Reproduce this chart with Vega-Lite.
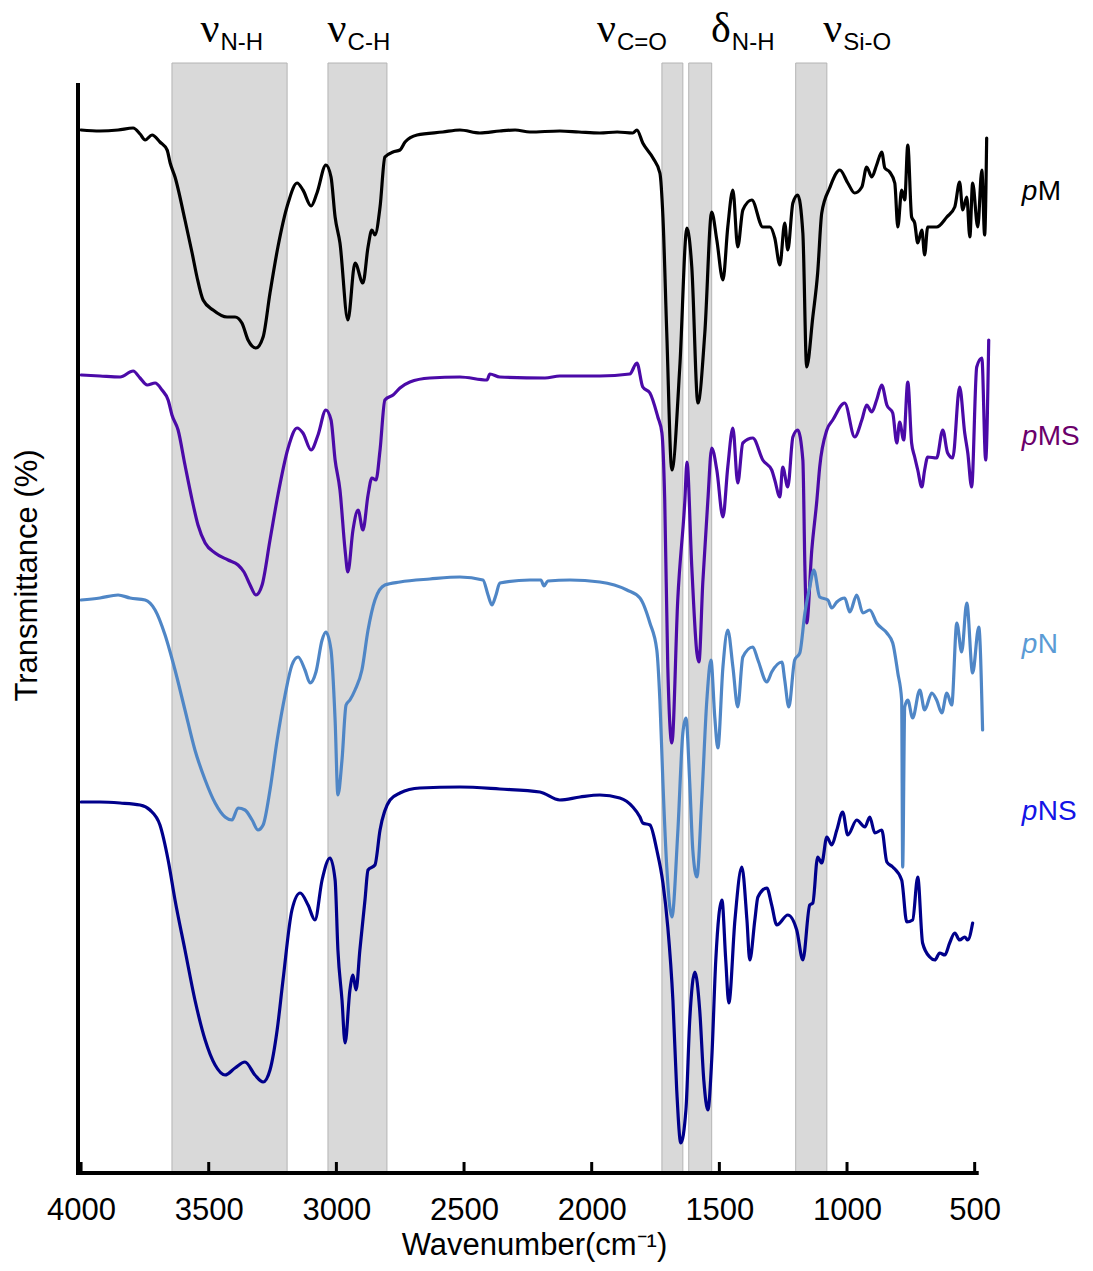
{
"$schema": "https://vega.github.io/schema/vega-lite/v6.json",
"width": 912, "height": 1110,
"autosize": {"type": "none"},
"padding": {"left": 78, "top": 63, "right": 103, "bottom": 98},
"config": {"view": {"stroke": null}, "font": "Liberation Sans", "axis": {"grid": false}},
"datasets": {
"bands": [{"from": 3644, "to": 3193}, {"from": 3033, "to": 2802}, {"from": 1725, "to": 1643}, {"from": 1620, "to": 1530}, {"from": 1201, "to": 1079}],
"ticks": [{"v": 4000}, {"v": 3500}, {"v": 3000}, {"v": 2500}, {"v": 2000}, {"v": 1500}, {"v": 1000}, {"v": 500}],
"axisline": [{"a": 1}],
"peaks": [{"g": "ν", "sub": "N-H", "w": 3458}, {"g": "ν", "sub": "C-H", "w": 2960}, {"g": "ν", "sub": "C=O", "w": 1905}, {"g": "δ", "sub": "N-H", "w": 1455}, {"g": "ν", "sub": "Si-O", "w": 1019}],
"labels": [{"s": "pM", "rest": "M", "t": 981}, {"s": "pMS", "rest": "MS", "t": 736}, {"s": "pN", "rest": "N", "t": 528}, {"s": "pNS", "rest": "NS", "t": 361}],
"spectra": [
{"s":"pM","w":4000,"t":1043},{"s":"pM","w":3926,"t":1042},{"s":"pM","w":3855,"t":1043},{"s":"pM","w":3796,"t":1045},{"s":"pM","w":3769,"t":1039},{"s":"pM","w":3749,"t":1033},{"s":"pM","w":3722,"t":1038},{"s":"pM","w":3691,"t":1031},{"s":"pM","w":3663,"t":1023},{"s":"pM","w":3651,"t":1010},{"s":"pM","w":3632,"t":996},{"s":"pM","w":3593,"t":953},{"s":"pM","w":3565,"t":920},{"s":"pM","w":3546,"t":896},{"s":"pM","w":3522,"t":873},{"s":"pM","w":3483,"t":863},{"s":"pM","w":3428,"t":856},{"s":"pM","w":3397,"t":856},{"s":"pM","w":3370,"t":850},{"s":"pM","w":3346,"t":833},{"s":"pM","w":3315,"t":825},{"s":"pM","w":3287,"t":836},{"s":"pM","w":3260,"t":880},{"s":"pM","w":3229,"t":926},{"s":"pM","w":3189,"t":970},{"s":"pM","w":3154,"t":990},{"s":"pM","w":3131,"t":983},{"s":"pM","w":3099,"t":967},{"s":"pM","w":3076,"t":980},{"s":"pM","w":3041,"t":1008},{"s":"pM","w":3021,"t":996},{"s":"pM","w":3005,"t":956},{"s":"pM","w":2986,"t":930},{"s":"pM","w":2955,"t":853},{"s":"pM","w":2927,"t":910},{"s":"pM","w":2896,"t":890},{"s":"pM","w":2876,"t":926},{"s":"pM","w":2861,"t":943},{"s":"pM","w":2849,"t":938},{"s":"pM","w":2829,"t":966},{"s":"pM","w":2810,"t":1016},{"s":"pM","w":2778,"t":1021},{"s":"pM","w":2751,"t":1023},{"s":"pM","w":2731,"t":1031},{"s":"pM","w":2684,"t":1038},{"s":"pM","w":2583,"t":1041},{"s":"pM","w":2516,"t":1043},{"s":"pM","w":2438,"t":1040},{"s":"pM","w":2360,"t":1042},{"s":"pM","w":2300,"t":1043},{"s":"pM","w":2242,"t":1041},{"s":"pM","w":2125,"t":1042},{"s":"pM","w":2050,"t":1041},{"s":"pM","w":1968,"t":1040},{"s":"pM","w":1900,"t":1041},{"s":"pM","w":1839,"t":1040},{"s":"pM","w":1823,"t":1043},{"s":"pM","w":1800,"t":1030},{"s":"pM","w":1760,"t":1015},{"s":"pM","w":1733,"t":1000},{"s":"pM","w":1721,"t":956},{"s":"pM","w":1706,"t":840},{"s":"pM","w":1686,"t":703},{"s":"pM","w":1655,"t":806},{"s":"pM","w":1627,"t":945},{"s":"pM","w":1608,"t":906},{"s":"pM","w":1584,"t":770},{"s":"pM","w":1557,"t":840},{"s":"pM","w":1530,"t":961},{"s":"pM","w":1510,"t":933},{"s":"pM","w":1486,"t":893},{"s":"pM","w":1467,"t":946},{"s":"pM","w":1447,"t":983},{"s":"pM","w":1428,"t":926},{"s":"pM","w":1408,"t":963},{"s":"pM","w":1373,"t":973},{"s":"pM","w":1330,"t":946},{"s":"pM","w":1302,"t":946},{"s":"pM","w":1283,"t":935},{"s":"pM","w":1263,"t":908},{"s":"pM","w":1244,"t":950},{"s":"pM","w":1232,"t":923},{"s":"pM","w":1212,"t":970},{"s":"pM","w":1193,"t":978},{"s":"pM","w":1173,"t":940},{"s":"pM","w":1158,"t":806},{"s":"pM","w":1134,"t":856},{"s":"pM","w":1115,"t":900},{"s":"pM","w":1099,"t":960},{"s":"pM","w":1068,"t":985},{"s":"pM","w":1028,"t":1003},{"s":"pM","w":997,"t":990},{"s":"pM","w":970,"t":980},{"s":"pM","w":942,"t":986},{"s":"pM","w":923,"t":1006},{"s":"pM","w":903,"t":996},{"s":"pM","w":884,"t":1008},{"s":"pM","w":864,"t":1021},{"s":"pM","w":852,"t":1005},{"s":"pM","w":833,"t":1001},{"s":"pM","w":813,"t":990},{"s":"pM","w":801,"t":946},{"s":"pM","w":786,"t":983},{"s":"pM","w":774,"t":973},{"s":"pM","w":762,"t":1028},{"s":"pM","w":747,"t":956},{"s":"pM","w":735,"t":950},{"s":"pM","w":723,"t":930},{"s":"pM","w":707,"t":943},{"s":"pM","w":696,"t":918},{"s":"pM","w":684,"t":946},{"s":"pM","w":649,"t":946},{"s":"pM","w":609,"t":956},{"s":"pM","w":578,"t":966},{"s":"pM","w":559,"t":991},{"s":"pM","w":547,"t":963},{"s":"pM","w":531,"t":976},{"s":"pM","w":519,"t":936},{"s":"pM","w":508,"t":990},{"s":"pM","w":488,"t":946},{"s":"pM","w":472,"t":1003},{"s":"pM","w":461,"t":938},{"s":"pM","w":453,"t":1035},
{"s":"pMS","w":4000,"t":798},{"s":"pMS","w":3926,"t":797},{"s":"pMS","w":3847,"t":796},{"s":"pMS","w":3796,"t":802},{"s":"pMS","w":3769,"t":795},{"s":"pMS","w":3741,"t":788},{"s":"pMS","w":3710,"t":790},{"s":"pMS","w":3683,"t":783},{"s":"pMS","w":3659,"t":773},{"s":"pMS","w":3644,"t":758},{"s":"pMS","w":3620,"t":743},{"s":"pMS","w":3593,"t":708},{"s":"pMS","w":3565,"t":673},{"s":"pMS","w":3542,"t":648},{"s":"pMS","w":3514,"t":630},{"s":"pMS","w":3475,"t":620},{"s":"pMS","w":3424,"t":613},{"s":"pMS","w":3385,"t":608},{"s":"pMS","w":3362,"t":601},{"s":"pMS","w":3338,"t":588},{"s":"pMS","w":3315,"t":578},{"s":"pMS","w":3291,"t":588},{"s":"pMS","w":3260,"t":633},{"s":"pMS","w":3229,"t":678},{"s":"pMS","w":3189,"t":725},{"s":"pMS","w":3154,"t":745},{"s":"pMS","w":3131,"t":740},{"s":"pMS","w":3099,"t":723},{"s":"pMS","w":3072,"t":738},{"s":"pMS","w":3041,"t":763},{"s":"pMS","w":3021,"t":753},{"s":"pMS","w":3005,"t":713},{"s":"pMS","w":2986,"t":683},{"s":"pMS","w":2966,"t":623},{"s":"pMS","w":2955,"t":601},{"s":"pMS","w":2935,"t":643},{"s":"pMS","w":2915,"t":663},{"s":"pMS","w":2896,"t":643},{"s":"pMS","w":2876,"t":678},{"s":"pMS","w":2861,"t":695},{"s":"pMS","w":2845,"t":693},{"s":"pMS","w":2829,"t":723},{"s":"pMS","w":2810,"t":773},{"s":"pMS","w":2778,"t":778},{"s":"pMS","w":2751,"t":785},{"s":"pMS","w":2712,"t":791},{"s":"pMS","w":2634,"t":795},{"s":"pMS","w":2516,"t":796},{"s":"pMS","w":2410,"t":793},{"s":"pMS","w":2399,"t":799},{"s":"pMS","w":2360,"t":796},{"s":"pMS","w":2183,"t":795},{"s":"pMS","w":2125,"t":797},{"s":"pMS","w":1968,"t":797},{"s":"pMS","w":1851,"t":799},{"s":"pMS","w":1823,"t":810},{"s":"pMS","w":1800,"t":786},{"s":"pMS","w":1772,"t":780},{"s":"pMS","w":1741,"t":756},{"s":"pMS","w":1725,"t":740},{"s":"pMS","w":1714,"t":673},{"s":"pMS","w":1702,"t":506},{"s":"pMS","w":1686,"t":430},{"s":"pMS","w":1663,"t":573},{"s":"pMS","w":1635,"t":673},{"s":"pMS","w":1627,"t":711},{"s":"pMS","w":1608,"t":606},{"s":"pMS","w":1588,"t":520},{"s":"pMS","w":1580,"t":511},{"s":"pMS","w":1565,"t":590},{"s":"pMS","w":1545,"t":673},{"s":"pMS","w":1530,"t":725},{"s":"pMS","w":1510,"t":703},{"s":"pMS","w":1486,"t":656},{"s":"pMS","w":1467,"t":706},{"s":"pMS","w":1447,"t":745},{"s":"pMS","w":1428,"t":690},{"s":"pMS","w":1408,"t":730},{"s":"pMS","w":1369,"t":735},{"s":"pMS","w":1330,"t":713},{"s":"pMS","w":1295,"t":703},{"s":"pMS","w":1283,"t":693},{"s":"pMS","w":1263,"t":676},{"s":"pMS","w":1252,"t":706},{"s":"pMS","w":1232,"t":686},{"s":"pMS","w":1212,"t":736},{"s":"pMS","w":1193,"t":743},{"s":"pMS","w":1173,"t":713},{"s":"pMS","w":1165,"t":606},{"s":"pMS","w":1158,"t":550},{"s":"pMS","w":1138,"t":623},{"s":"pMS","w":1118,"t":673},{"s":"pMS","w":1107,"t":706},{"s":"pMS","w":1079,"t":743},{"s":"pMS","w":1056,"t":753},{"s":"pMS","w":1009,"t":770},{"s":"pMS","w":970,"t":736},{"s":"pMS","w":942,"t":753},{"s":"pMS","w":923,"t":768},{"s":"pMS","w":903,"t":761},{"s":"pMS","w":884,"t":773},{"s":"pMS","w":864,"t":788},{"s":"pMS","w":844,"t":768},{"s":"pMS","w":821,"t":760},{"s":"pMS","w":805,"t":730},{"s":"pMS","w":794,"t":751},{"s":"pMS","w":778,"t":733},{"s":"pMS","w":762,"t":791},{"s":"pMS","w":747,"t":730},{"s":"pMS","w":735,"t":716},{"s":"pMS","w":723,"t":703},{"s":"pMS","w":707,"t":686},{"s":"pMS","w":696,"t":703},{"s":"pMS","w":684,"t":716},{"s":"pMS","w":649,"t":715},{"s":"pMS","w":625,"t":743},{"s":"pMS","w":606,"t":720},{"s":"pMS","w":586,"t":715},{"s":"pMS","w":559,"t":786},{"s":"pMS","w":539,"t":740},{"s":"pMS","w":527,"t":720},{"s":"pMS","w":512,"t":686},{"s":"pMS","w":492,"t":806},{"s":"pMS","w":472,"t":815},{"s":"pMS","w":457,"t":713},{"s":"pMS","w":445,"t":833},
{"s":"pN","w":4000,"t":573},{"s":"pN","w":3926,"t":575},{"s":"pN","w":3855,"t":578},{"s":"pN","w":3808,"t":575},{"s":"pN","w":3749,"t":573},{"s":"pN","w":3710,"t":563},{"s":"pN","w":3671,"t":538},{"s":"pN","w":3632,"t":503},{"s":"pN","w":3593,"t":463},{"s":"pN","w":3554,"t":423},{"s":"pN","w":3514,"t":393},{"s":"pN","w":3475,"t":370},{"s":"pN","w":3436,"t":356},{"s":"pN","w":3409,"t":353},{"s":"pN","w":3385,"t":365},{"s":"pN","w":3358,"t":363},{"s":"pN","w":3330,"t":353},{"s":"pN","w":3307,"t":343},{"s":"pN","w":3287,"t":348},{"s":"pN","w":3260,"t":383},{"s":"pN","w":3232,"t":433},{"s":"pN","w":3201,"t":478},{"s":"pN","w":3174,"t":508},{"s":"pN","w":3150,"t":516},{"s":"pN","w":3123,"t":503},{"s":"pN","w":3103,"t":490},{"s":"pN","w":3080,"t":501},{"s":"pN","w":3056,"t":533},{"s":"pN","w":3041,"t":541},{"s":"pN","w":3021,"t":523},{"s":"pN","w":3005,"t":453},{"s":"pN","w":2994,"t":378},{"s":"pN","w":2978,"t":413},{"s":"pN","w":2962,"t":468},{"s":"pN","w":2947,"t":473},{"s":"pN","w":2927,"t":483},{"s":"pN","w":2900,"t":503},{"s":"pN","w":2876,"t":543},{"s":"pN","w":2849,"t":573},{"s":"pN","w":2810,"t":588},{"s":"pN","w":2751,"t":591},{"s":"pN","w":2634,"t":594},{"s":"pN","w":2516,"t":596},{"s":"pN","w":2426,"t":593},{"s":"pN","w":2406,"t":578},{"s":"pN","w":2391,"t":568},{"s":"pN","w":2375,"t":578},{"s":"pN","w":2360,"t":590},{"s":"pN","w":2242,"t":593},{"s":"pN","w":2199,"t":593},{"s":"pN","w":2187,"t":587},{"s":"pN","w":2172,"t":592},{"s":"pN","w":2085,"t":593},{"s":"pN","w":1968,"t":591},{"s":"pN","w":1862,"t":583},{"s":"pN","w":1811,"t":575},{"s":"pN","w":1772,"t":550},{"s":"pN","w":1745,"t":523},{"s":"pN","w":1733,"t":473},{"s":"pN","w":1721,"t":390},{"s":"pN","w":1706,"t":306},{"s":"pN","w":1686,"t":256},{"s":"pN","w":1663,"t":340},{"s":"pN","w":1643,"t":440},{"s":"pN","w":1631,"t":455},{"s":"pN","w":1616,"t":390},{"s":"pN","w":1604,"t":323},{"s":"pN","w":1588,"t":296},{"s":"pN","w":1569,"t":373},{"s":"pN","w":1549,"t":473},{"s":"pN","w":1533,"t":513},{"s":"pN","w":1518,"t":456},{"s":"pN","w":1506,"t":425},{"s":"pN","w":1486,"t":506},{"s":"pN","w":1467,"t":543},{"s":"pN","w":1447,"t":506},{"s":"pN","w":1428,"t":466},{"s":"pN","w":1408,"t":516},{"s":"pN","w":1369,"t":526},{"s":"pN","w":1349,"t":513},{"s":"pN","w":1314,"t":491},{"s":"pN","w":1295,"t":501},{"s":"pN","w":1255,"t":511},{"s":"pN","w":1244,"t":493},{"s":"pN","w":1228,"t":466},{"s":"pN","w":1205,"t":513},{"s":"pN","w":1185,"t":520},{"s":"pN","w":1165,"t":560},{"s":"pN","w":1146,"t":586},{"s":"pN","w":1130,"t":603},{"s":"pN","w":1107,"t":576},{"s":"pN","w":1075,"t":573},{"s":"pN","w":1060,"t":565},{"s":"pN","w":1040,"t":571},{"s":"pN","w":1009,"t":575},{"s":"pN","w":989,"t":561},{"s":"pN","w":962,"t":578},{"s":"pN","w":938,"t":560},{"s":"pN","w":911,"t":563},{"s":"pN","w":884,"t":550},{"s":"pN","w":844,"t":540},{"s":"pN","w":821,"t":530},{"s":"pN","w":801,"t":500},{"s":"pN","w":786,"t":473},{"s":"pN","w":782,"t":306},{"s":"pN","w":774,"t":466},{"s":"pN","w":762,"t":473},{"s":"pN","w":743,"t":455},{"s":"pN","w":715,"t":483},{"s":"pN","w":696,"t":463},{"s":"pN","w":668,"t":480},{"s":"pN","w":649,"t":473},{"s":"pN","w":629,"t":460},{"s":"pN","w":609,"t":480},{"s":"pN","w":590,"t":468},{"s":"pN","w":570,"t":550},{"s":"pN","w":551,"t":521},{"s":"pN","w":531,"t":570},{"s":"pN","w":508,"t":500},{"s":"pN","w":484,"t":546},{"s":"pN","w":469,"t":443},
{"s":"pNS","w":4000,"t":371},{"s":"pNS","w":3926,"t":371},{"s":"pNS","w":3847,"t":370},{"s":"pNS","w":3769,"t":368},{"s":"pNS","w":3730,"t":363},{"s":"pNS","w":3691,"t":348},{"s":"pNS","w":3659,"t":313},{"s":"pNS","w":3632,"t":273},{"s":"pNS","w":3593,"t":223},{"s":"pNS","w":3554,"t":173},{"s":"pNS","w":3514,"t":133},{"s":"pNS","w":3475,"t":108},{"s":"pNS","w":3436,"t":98},{"s":"pNS","w":3397,"t":105},{"s":"pNS","w":3358,"t":111},{"s":"pNS","w":3319,"t":98},{"s":"pNS","w":3287,"t":91},{"s":"pNS","w":3260,"t":103},{"s":"pNS","w":3232,"t":143},{"s":"pNS","w":3209,"t":193},{"s":"pNS","w":3174,"t":263},{"s":"pNS","w":3142,"t":280},{"s":"pNS","w":3111,"t":268},{"s":"pNS","w":3084,"t":253},{"s":"pNS","w":3056,"t":293},{"s":"pNS","w":3025,"t":315},{"s":"pNS","w":3005,"t":293},{"s":"pNS","w":2994,"t":223},{"s":"pNS","w":2978,"t":173},{"s":"pNS","w":2966,"t":130},{"s":"pNS","w":2947,"t":183},{"s":"pNS","w":2935,"t":198},{"s":"pNS","w":2923,"t":183},{"s":"pNS","w":2908,"t":223},{"s":"pNS","w":2888,"t":273},{"s":"pNS","w":2876,"t":303},{"s":"pNS","w":2849,"t":308},{"s":"pNS","w":2829,"t":343},{"s":"pNS","w":2790,"t":373},{"s":"pNS","w":2751,"t":380},{"s":"pNS","w":2673,"t":385},{"s":"pNS","w":2516,"t":386},{"s":"pNS","w":2360,"t":384},{"s":"pNS","w":2203,"t":381},{"s":"pNS","w":2125,"t":373},{"s":"pNS","w":2046,"t":376},{"s":"pNS","w":1968,"t":378},{"s":"pNS","w":1890,"t":375},{"s":"pNS","w":1839,"t":366},{"s":"pNS","w":1811,"t":356},{"s":"pNS","w":1800,"t":350},{"s":"pNS","w":1772,"t":348},{"s":"pNS","w":1745,"t":323},{"s":"pNS","w":1721,"t":290},{"s":"pNS","w":1702,"t":246},{"s":"pNS","w":1682,"t":173},{"s":"pNS","w":1667,"t":83},{"s":"pNS","w":1651,"t":30},{"s":"pNS","w":1631,"t":63},{"s":"pNS","w":1616,"t":153},{"s":"pNS","w":1596,"t":201},{"s":"pNS","w":1577,"t":163},{"s":"pNS","w":1561,"t":93},{"s":"pNS","w":1545,"t":63},{"s":"pNS","w":1530,"t":113},{"s":"pNS","w":1514,"t":213},{"s":"pNS","w":1490,"t":273},{"s":"pNS","w":1475,"t":213},{"s":"pNS","w":1463,"t":170},{"s":"pNS","w":1439,"t":253},{"s":"pNS","w":1412,"t":306},{"s":"pNS","w":1392,"t":253},{"s":"pNS","w":1381,"t":213},{"s":"pNS","w":1361,"t":253},{"s":"pNS","w":1349,"t":276},{"s":"pNS","w":1314,"t":285},{"s":"pNS","w":1295,"t":268},{"s":"pNS","w":1275,"t":248},{"s":"pNS","w":1232,"t":258},{"s":"pNS","w":1197,"t":243},{"s":"pNS","w":1173,"t":213},{"s":"pNS","w":1146,"t":268},{"s":"pNS","w":1134,"t":270},{"s":"pNS","w":1115,"t":316},{"s":"pNS","w":1099,"t":310},{"s":"pNS","w":1079,"t":336},{"s":"pNS","w":1060,"t":328},{"s":"pNS","w":1040,"t":343},{"s":"pNS","w":1017,"t":361},{"s":"pNS","w":997,"t":338},{"s":"pNS","w":962,"t":353},{"s":"pNS","w":930,"t":346},{"s":"pNS","w":911,"t":356},{"s":"pNS","w":891,"t":340},{"s":"pNS","w":864,"t":343},{"s":"pNS","w":844,"t":311},{"s":"pNS","w":821,"t":306},{"s":"pNS","w":786,"t":293},{"s":"pNS","w":766,"t":251},{"s":"pNS","w":743,"t":253},{"s":"pNS","w":723,"t":296},{"s":"pNS","w":704,"t":230},{"s":"pNS","w":676,"t":216},{"s":"pNS","w":656,"t":213},{"s":"pNS","w":637,"t":220},{"s":"pNS","w":617,"t":218},{"s":"pNS","w":598,"t":230},{"s":"pNS","w":578,"t":240},{"s":"pNS","w":559,"t":233},{"s":"pNS","w":539,"t":236},{"s":"pNS","w":527,"t":233},{"s":"pNS","w":508,"t":250}
]
},
"resolve": {"scale": {"color": "independent"}},
"layer": [
{"data": {"name": "bands"}, "mark": {"type": "rect", "fill": "#d9d9d9", "stroke": "#b4b4b4", "strokeWidth": 1},
 "encoding": {"x": {"field": "from", "type": "quantitative"}, "x2": {"field": "to"}, "y": {"datum": 0, "type": "quantitative"}, "y2": {"datum": 1110}}},
{"data": {"name": "spectra"}, "mark": {"type": "line", "strokeWidth": 3.2, "strokeJoin": "round", "strokeCap": "round", "interpolate": "monotone"},
 "encoding": {
  "x": {"field": "w", "type": "quantitative", "scale": {"domain": [4012, 440], "nice": false, "zero": false},
        "axis": {"title": "Wavenumber(cm⁻¹)", "values": [4000, 3500, 3000, 2500, 2000, 1500, 1000, 500], "format": "d", "domain": false, "ticks": false, "labelFontSize": 31, "labelColor": "black", "labelFont": "Liberation Sans", "labelPadding": 22, "labelFlush": false, "titleFontSize": 31, "titleFontWeight": "normal", "titleColor": "black", "titleFont": "Liberation Sans", "titlePadding": 5}},
  "y": {"field": "t", "type": "quantitative", "scale": {"domain": [0, 1110], "nice": false, "zero": false},
        "axis": {"title": "Transmittance (%)", "domain": false, "ticks": false, "labels": false, "titleFontSize": 31, "titleFontWeight": "normal", "titleColor": "black", "titleFont": "Liberation Sans", "titleAngle": -90, "titleX": -51, "titleY": 512, "titleAlign": "center", "titleBaseline": "middle"}},
  "color": {"field": "s", "type": "nominal", "scale": {"domain": ["pM", "pMS", "pN", "pNS"], "range": ["#000000", "#4b0aa8", "#4f86c6", "#00008b"]}, "legend": null},
  "detail": {"field": "s"}
 }},
{"data": {"name": "ticks"}, "mark": {"type": "rule", "strokeWidth": 3, "color": "black"},
 "encoding": {"x": {"field": "v", "type": "quantitative"}, "y": {"datum": 0}, "y2": {"datum": 11}}},
{"data": {"name": "axisline"}, "mark": {"type": "rule", "strokeWidth": 4, "color": "black", "strokeCap": "square"},
 "encoding": {"x": {"datum": 4012}, "x2": {"datum": 492}, "y": {"datum": 0}}},
{"data": {"name": "axisline"}, "mark": {"type": "rule", "strokeWidth": 4, "color": "black", "strokeCap": "square"},
 "encoding": {"x": {"datum": 4012}, "y": {"datum": 0}, "y2": {"datum": 1088}}},
{"data": {"name": "peaks"}, "mark": {"type": "text", "font": "Liberation Serif", "fontSize": 42, "align": "right", "baseline": "alphabetic", "color": "black"},
 "encoding": {"x": {"field": "w", "type": "quantitative"}, "y": {"datum": 1131}, "text": {"field": "g"}}},
{"data": {"name": "peaks"}, "mark": {"type": "text", "font": "Liberation Sans", "fontSize": 24, "align": "left", "baseline": "alphabetic", "color": "black", "dx": 1},
 "encoding": {"x": {"field": "w", "type": "quantitative"}, "y": {"datum": 1123}, "text": {"field": "sub"}}},
{"data": {"name": "labels"}, "mark": {"type": "text", "font": "Liberation Sans", "fontSize": 28, "fontStyle": "italic", "align": "left", "baseline": "middle", "text": "p"},
 "encoding": {"x": {"datum": 316}, "y": {"field": "t", "type": "quantitative"},
  "color": {"field": "s", "type": "nominal", "scale": {"domain": ["pM", "pMS", "pN", "pNS"], "range": ["#000000", "#6b006b", "#5b9bd5", "#1414e6"]}, "legend": null}}},
{"data": {"name": "labels"}, "mark": {"type": "text", "font": "Liberation Sans", "fontSize": 28, "align": "left", "baseline": "middle", "dx": 16},
 "encoding": {"x": {"datum": 316}, "y": {"field": "t", "type": "quantitative"}, "text": {"field": "rest"},
  "color": {"field": "s", "type": "nominal", "scale": {"domain": ["pM", "pMS", "pN", "pNS"], "range": ["#000000", "#6b006b", "#5b9bd5", "#1414e6"]}, "legend": null}}}
]
}
